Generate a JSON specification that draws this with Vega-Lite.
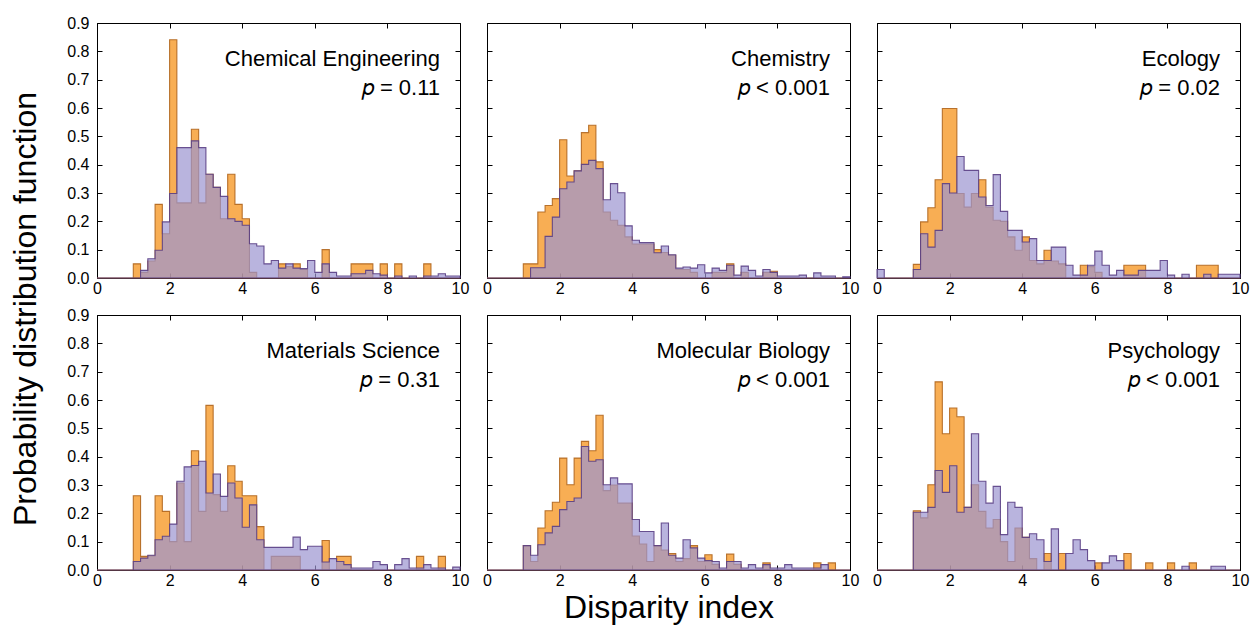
{
"$schema": "https://vega.github.io/schema/vega-lite/v6.json",
"padding": {"left": 10, "top": 14, "right": 5, "bottom": 5},
"title": {"text": "Probability distribution function", "orient": "left", "anchor": "middle", "fontSize": 32, "font": "Liberation Sans", "fontWeight": "normal", "color": "black", "offset": 23, "dx": 10},
"config": {
  "font": "Liberation Sans",
  "view": {"stroke": "black", "strokeWidth": 1},
  "axis": {"domainColor": "black", "domainWidth": 1, "tickColor": "black", "tickWidth": 1, "tickSize": -5, "labelFontSize": 16, "labelColor": "black", "labelFont": "Liberation Sans", "labelFlush": false, "grid": false, "titleFont": "Liberation Sans", "titleColor": "black", "titleFontWeight": "normal"},
  "axisX": {"labelFlush": false},
  "axisLeft": {"labelPadding": 13},
  "axisBottom": {"labelPadding": 7},
  "text": {"font": "Liberation Sans", "color": "black"}
},
"data": {"values": [
{"f":"ChemEng","x":0,"o":0,"p":0},{"f":"ChemEng","x":0.2,"o":0,"p":0},{"f":"ChemEng","x":0.4,"o":0,"p":0},{"f":"ChemEng","x":0.6,"o":0,"p":0},{"f":"ChemEng","x":0.8,"o":0,"p":0},
{"f":"ChemEng","x":1,"o":0.05,"p":0},{"f":"ChemEng","x":1.2,"o":0.02,"p":0.027},{"f":"ChemEng","x":1.4,"o":0.06,"p":0.068},{"f":"ChemEng","x":1.6,"o":0.26,"p":0.098},{"f":"ChemEng","x":1.8,"o":0.156,"p":0.198},
{"f":"ChemEng","x":2,"o":0.841,"p":0.298},{"f":"ChemEng","x":2.2,"o":0.265,"p":0.46},{"f":"ChemEng","x":2.4,"o":0.265,"p":0.46},{"f":"ChemEng","x":2.6,"o":0.525,"p":0.484},{"f":"ChemEng","x":2.8,"o":0.265,"p":0.46},
{"f":"ChemEng","x":3,"o":0.366,"p":0.366},{"f":"ChemEng","x":3.2,"o":0.32,"p":0.32},{"f":"ChemEng","x":3.4,"o":0.209,"p":0.288},{"f":"ChemEng","x":3.6,"o":0.366,"p":0.209},{"f":"ChemEng","x":3.8,"o":0.26,"p":0.2},
{"f":"ChemEng","x":4,"o":0.209,"p":0.186},{"f":"ChemEng","x":4.2,"o":0.02,"p":0.121},{"f":"ChemEng","x":4.4,"o":0,"p":0.113},{"f":"ChemEng","x":4.6,"o":0,"p":0.05},{"f":"ChemEng","x":4.8,"o":0,"p":0.062},
{"f":"ChemEng","x":5,"o":0.05,"p":0.035},{"f":"ChemEng","x":5.2,"o":0.04,"p":0.05},{"f":"ChemEng","x":5.4,"o":0.05,"p":0.035},{"f":"ChemEng","x":5.6,"o":0.03,"p":0.033},{"f":"ChemEng","x":5.8,"o":0,"p":0.062},
{"f":"ChemEng","x":6,"o":0,"p":0.02},{"f":"ChemEng","x":6.2,"o":0.1,"p":0.05},{"f":"ChemEng","x":6.4,"o":0,"p":0.02},{"f":"ChemEng","x":6.6,"o":0,"p":0.007},{"f":"ChemEng","x":6.8,"o":0,"p":0.007},
{"f":"ChemEng","x":7,"o":0.05,"p":0.015},{"f":"ChemEng","x":7.2,"o":0.05,"p":0.015},{"f":"ChemEng","x":7.4,"o":0.05,"p":0.027},{"f":"ChemEng","x":7.6,"o":0,"p":0.015},{"f":"ChemEng","x":7.8,"o":0.05,"p":0.01},
{"f":"ChemEng","x":8,"o":0,"p":0},{"f":"ChemEng","x":8.2,"o":0.05,"p":0.007},{"f":"ChemEng","x":8.4,"o":0,"p":0},{"f":"ChemEng","x":8.6,"o":0,"p":0.007},{"f":"ChemEng","x":8.8,"o":0,"p":0},
{"f":"ChemEng","x":9,"o":0.05,"p":0.007},{"f":"ChemEng","x":9.2,"o":0,"p":0.007},{"f":"ChemEng","x":9.4,"o":0,"p":0.015},{"f":"ChemEng","x":9.6,"o":0,"p":0.007},{"f":"ChemEng","x":9.8,"o":0,"p":0.007},
{"f":"ChemEng","x":10,"o":0,"p":0},

{"f":"Chem","x":0,"o":0,"p":0},{"f":"Chem","x":0.2,"o":0,"p":0},{"f":"Chem","x":0.4,"o":0,"p":0},{"f":"Chem","x":0.6,"o":0,"p":0},{"f":"Chem","x":0.8,"o":0,"p":0},
{"f":"Chem","x":1,"o":0.05,"p":0},{"f":"Chem","x":1.2,"o":0.05,"p":0.036},{"f":"Chem","x":1.4,"o":0.233,"p":0.036},{"f":"Chem","x":1.6,"o":0.256,"p":0.147},{"f":"Chem","x":1.8,"o":0.28,"p":0.215},
{"f":"Chem","x":2,"o":0.488,"p":0.315},{"f":"Chem","x":2.2,"o":0.36,"p":0.339},{"f":"Chem","x":2.4,"o":0.378,"p":0.378},{"f":"Chem","x":2.6,"o":0.513,"p":0.401},{"f":"Chem","x":2.8,"o":0.539,"p":0.415},
{"f":"Chem","x":3,"o":0.41,"p":0.386},{"f":"Chem","x":3.2,"o":0.233,"p":0.276},{"f":"Chem","x":3.4,"o":0.204,"p":0.333},{"f":"Chem","x":3.6,"o":0.186,"p":0.301},{"f":"Chem","x":3.8,"o":0.145,"p":0.184},
{"f":"Chem","x":4,"o":0.12,"p":0.133},{"f":"Chem","x":4.2,"o":0.12,"p":0.125},{"f":"Chem","x":4.4,"o":0.12,"p":0.125},{"f":"Chem","x":4.6,"o":0.1,"p":0.089},{"f":"Chem","x":4.8,"o":0.09,"p":0.113},
{"f":"Chem","x":5,"o":0.08,"p":0.082},{"f":"Chem","x":5.2,"o":0.03,"p":0.035},{"f":"Chem","x":5.4,"o":0.03,"p":0.039},{"f":"Chem","x":5.6,"o":0.02,"p":0.035},{"f":"Chem","x":5.8,"o":0,"p":0.047},
{"f":"Chem","x":6,"o":0,"p":0.018},{"f":"Chem","x":6.2,"o":0.02,"p":0.035},{"f":"Chem","x":6.4,"o":0.02,"p":0.027},{"f":"Chem","x":6.6,"o":0.05,"p":0.045},{"f":"Chem","x":6.8,"o":0,"p":0.01},
{"f":"Chem","x":7,"o":0.02,"p":0.042},{"f":"Chem","x":7.2,"o":0,"p":0.027},{"f":"Chem","x":7.4,"o":0,"p":0.007},{"f":"Chem","x":7.6,"o":0.02,"p":0.03},{"f":"Chem","x":7.8,"o":0.024,"p":0.02},
{"f":"Chem","x":8,"o":0,"p":0.007},{"f":"Chem","x":8.2,"o":0,"p":0.007},{"f":"Chem","x":8.4,"o":0,"p":0.007},{"f":"Chem","x":8.6,"o":0,"p":0.01},{"f":"Chem","x":8.8,"o":0,"p":0},
{"f":"Chem","x":9,"o":0,"p":0.018},{"f":"Chem","x":9.2,"o":0,"p":0.007},{"f":"Chem","x":9.4,"o":0,"p":0.007},{"f":"Chem","x":9.6,"o":0,"p":0},{"f":"Chem","x":9.8,"o":0,"p":0.004},
{"f":"Chem","x":10,"o":0,"p":0},

{"f":"Ecol","x":0,"o":0,"p":0.03},{"f":"Ecol","x":0.2,"o":0,"p":0},{"f":"Ecol","x":0.4,"o":0,"p":0},{"f":"Ecol","x":0.6,"o":0,"p":0},{"f":"Ecol","x":0.8,"o":0,"p":0},
{"f":"Ecol","x":1,"o":0.048,"p":0.03},{"f":"Ecol","x":1.2,"o":0.198,"p":0.156},{"f":"Ecol","x":1.4,"o":0.248,"p":0.109},{"f":"Ecol","x":1.6,"o":0.347,"p":0.168},{"f":"Ecol","x":1.8,"o":0.598,"p":0.333},
{"f":"Ecol","x":2,"o":0.598,"p":0.3},{"f":"Ecol","x":2.2,"o":0.298,"p":0.429},{"f":"Ecol","x":2.4,"o":0.25,"p":0.38},{"f":"Ecol","x":2.6,"o":0.298,"p":0.38},{"f":"Ecol","x":2.8,"o":0.347,"p":0.286},
{"f":"Ecol","x":3,"o":0.25,"p":0.256},{"f":"Ecol","x":3.2,"o":0.204,"p":0.365},{"f":"Ecol","x":3.4,"o":0.2,"p":0.235},{"f":"Ecol","x":3.6,"o":0.145,"p":0.168},{"f":"Ecol","x":3.8,"o":0.098,"p":0.168},
{"f":"Ecol","x":4,"o":0.145,"p":0.127},{"f":"Ecol","x":4.2,"o":0.062,"p":0.139},{"f":"Ecol","x":4.4,"o":0.05,"p":0.062},{"f":"Ecol","x":4.6,"o":0.098,"p":0.062},{"f":"Ecol","x":4.8,"o":0.06,"p":0.109},
{"f":"Ecol","x":5,"o":0.05,"p":0.109},{"f":"Ecol","x":5.2,"o":0,"p":0.045},{"f":"Ecol","x":5.4,"o":0,"p":0.01},{"f":"Ecol","x":5.6,"o":0.045,"p":0.01},{"f":"Ecol","x":5.8,"o":0.04,"p":0.045},
{"f":"Ecol","x":6,"o":0.02,"p":0.095},{"f":"Ecol","x":6.2,"o":0,"p":0.045},{"f":"Ecol","x":6.4,"o":0,"p":0.01},{"f":"Ecol","x":6.6,"o":0,"p":0.027},{"f":"Ecol","x":6.8,"o":0.045,"p":0.01},
{"f":"Ecol","x":7,"o":0.045,"p":0.01},{"f":"Ecol","x":7.2,"o":0.045,"p":0.027},{"f":"Ecol","x":7.4,"o":0,"p":0.027},{"f":"Ecol","x":7.6,"o":0,"p":0.027},{"f":"Ecol","x":7.8,"o":0,"p":0.062},
{"f":"Ecol","x":8,"o":0,"p":0.01},{"f":"Ecol","x":8.2,"o":0,"p":0},{"f":"Ecol","x":8.4,"o":0,"p":0.013},{"f":"Ecol","x":8.6,"o":0,"p":0},{"f":"Ecol","x":8.8,"o":0.045,"p":0},
{"f":"Ecol","x":9,"o":0.045,"p":0.013},{"f":"Ecol","x":9.2,"o":0.045,"p":0},{"f":"Ecol","x":9.4,"o":0,"p":0.013},{"f":"Ecol","x":9.6,"o":0,"p":0.013},{"f":"Ecol","x":9.8,"o":0,"p":0.013},
{"f":"Ecol","x":10,"o":0,"p":0},

{"f":"MatSci","x":0,"o":0,"p":0},{"f":"MatSci","x":0.2,"o":0,"p":0},{"f":"MatSci","x":0.4,"o":0,"p":0},{"f":"MatSci","x":0.6,"o":0,"p":0},{"f":"MatSci","x":0.8,"o":0,"p":0},
{"f":"MatSci","x":1,"o":0.262,"p":0.03},{"f":"MatSci","x":1.2,"o":0.048,"p":0.042},{"f":"MatSci","x":1.4,"o":0.05,"p":0.052},{"f":"MatSci","x":1.6,"o":0.262,"p":0.107},{"f":"MatSci","x":1.8,"o":0.207,"p":0.119},
{"f":"MatSci","x":2,"o":0.1,"p":0.162},{"f":"MatSci","x":2.2,"o":0.307,"p":0.313},{"f":"MatSci","x":2.4,"o":0.1,"p":0.364},{"f":"MatSci","x":2.6,"o":0.421,"p":0.369},{"f":"MatSci","x":2.8,"o":0.207,"p":0.384},
{"f":"MatSci","x":3,"o":0.581,"p":0.272},{"f":"MatSci","x":3.2,"o":0.266,"p":0.339},{"f":"MatSci","x":3.4,"o":0.207,"p":0.26},{"f":"MatSci","x":3.6,"o":0.368,"p":0.307},{"f":"MatSci","x":3.8,"o":0.313,"p":0.254},
{"f":"MatSci","x":4,"o":0.262,"p":0.151},{"f":"MatSci","x":4.2,"o":0.262,"p":0.23},{"f":"MatSci","x":4.4,"o":0.153,"p":0.107},{"f":"MatSci","x":4.6,"o":0,"p":0.08},{"f":"MatSci","x":4.8,"o":0.048,"p":0.08},
{"f":"MatSci","x":5,"o":0.048,"p":0.08},{"f":"MatSci","x":5.2,"o":0.048,"p":0.08},{"f":"MatSci","x":5.4,"o":0.048,"p":0.116},{"f":"MatSci","x":5.6,"o":0,"p":0.072},{"f":"MatSci","x":5.8,"o":0,"p":0.084},
{"f":"MatSci","x":6,"o":0,"p":0.084},{"f":"MatSci","x":6.2,"o":0.104,"p":0.028},{"f":"MatSci","x":6.4,"o":0,"p":0.04},{"f":"MatSci","x":6.6,"o":0.048,"p":0.03},{"f":"MatSci","x":6.8,"o":0.048,"p":0.019},
{"f":"MatSci","x":7,"o":0,"p":0.007},{"f":"MatSci","x":7.2,"o":0,"p":0.007},{"f":"MatSci","x":7.4,"o":0,"p":0.007},{"f":"MatSci","x":7.6,"o":0,"p":0.03},{"f":"MatSci","x":7.8,"o":0,"p":0.019},
{"f":"MatSci","x":8,"o":0,"p":0},{"f":"MatSci","x":8.2,"o":0,"p":0.019},{"f":"MatSci","x":8.4,"o":0,"p":0.04},{"f":"MatSci","x":8.6,"o":0,"p":0.007},{"f":"MatSci","x":8.8,"o":0.048,"p":0.007},
{"f":"MatSci","x":9,"o":0,"p":0.019},{"f":"MatSci","x":9.2,"o":0,"p":0.007},{"f":"MatSci","x":9.4,"o":0.048,"p":0.007},{"f":"MatSci","x":9.6,"o":0,"p":0},{"f":"MatSci","x":9.8,"o":0,"p":0.01},
{"f":"MatSci","x":10,"o":0,"p":0},

{"f":"MolBio","x":0,"o":0,"p":0},{"f":"MolBio","x":0.2,"o":0,"p":0},{"f":"MolBio","x":0.4,"o":0,"p":0},{"f":"MolBio","x":0.6,"o":0,"p":0},{"f":"MolBio","x":0.8,"o":0,"p":0},
{"f":"MolBio","x":1,"o":0.086,"p":0.086},{"f":"MolBio","x":1.2,"o":0.03,"p":0.052},{"f":"MolBio","x":1.4,"o":0.148,"p":0.089},{"f":"MolBio","x":1.6,"o":0.209,"p":0.131},{"f":"MolBio","x":1.8,"o":0.239,"p":0.154},
{"f":"MolBio","x":2,"o":0.395,"p":0.213},{"f":"MolBio","x":2.2,"o":0.301,"p":0.242},{"f":"MolBio","x":2.4,"o":0.395,"p":0.254},{"f":"MolBio","x":2.6,"o":0.454,"p":0.436},{"f":"MolBio","x":2.8,"o":0.421,"p":0.384},
{"f":"MolBio","x":3,"o":0.546,"p":0.389},{"f":"MolBio","x":3.2,"o":0.28,"p":0.301},{"f":"MolBio","x":3.4,"o":0.3,"p":0.325},{"f":"MolBio","x":3.6,"o":0.236,"p":0.304},{"f":"MolBio","x":3.8,"o":0.236,"p":0.304},
{"f":"MolBio","x":4,"o":0.12,"p":0.178},{"f":"MolBio","x":4.2,"o":0.092,"p":0.136},{"f":"MolBio","x":4.4,"o":0.03,"p":0.136},{"f":"MolBio","x":4.6,"o":0.086,"p":0.086},{"f":"MolBio","x":4.8,"o":0.07,"p":0.166},
{"f":"MolBio","x":5,"o":0.058,"p":0.052},{"f":"MolBio","x":5.2,"o":0.03,"p":0.042},{"f":"MolBio","x":5.4,"o":0.04,"p":0.107},{"f":"MolBio","x":5.6,"o":0.086,"p":0.078},{"f":"MolBio","x":5.8,"o":0.03,"p":0.042},
{"f":"MolBio","x":6,"o":0.054,"p":0.033},{"f":"MolBio","x":6.2,"o":0.02,"p":0.03},{"f":"MolBio","x":6.4,"o":0,"p":0.007},{"f":"MolBio","x":6.6,"o":0.056,"p":0.03},{"f":"MolBio","x":6.8,"o":0.02,"p":0.03},
{"f":"MolBio","x":7,"o":0,"p":0.007},{"f":"MolBio","x":7.2,"o":0,"p":0.019},{"f":"MolBio","x":7.4,"o":0,"p":0.007},{"f":"MolBio","x":7.6,"o":0.025,"p":0.019},{"f":"MolBio","x":7.8,"o":0,"p":0.007},
{"f":"MolBio","x":8,"o":0,"p":0.007},{"f":"MolBio","x":8.2,"o":0,"p":0.019},{"f":"MolBio","x":8.4,"o":0,"p":0.007},{"f":"MolBio","x":8.6,"o":0,"p":0.007},{"f":"MolBio","x":8.8,"o":0,"p":0.007},
{"f":"MolBio","x":9,"o":0.025,"p":0.007},{"f":"MolBio","x":9.2,"o":0,"p":0.019},{"f":"MolBio","x":9.4,"o":0.025,"p":0},{"f":"MolBio","x":9.6,"o":0,"p":0},{"f":"MolBio","x":9.8,"o":0,"p":0},
{"f":"MolBio","x":10,"o":0,"p":0},

{"f":"Psych","x":0,"o":0,"p":0},{"f":"Psych","x":0.2,"o":0,"p":0},{"f":"Psych","x":0.4,"o":0,"p":0},{"f":"Psych","x":0.6,"o":0,"p":0},{"f":"Psych","x":0.8,"o":0,"p":0},
{"f":"Psych","x":1,"o":0.209,"p":0.204},{"f":"Psych","x":1.2,"o":0.184,"p":0.204},{"f":"Psych","x":1.4,"o":0.301,"p":0.221},{"f":"Psych","x":1.6,"o":0.664,"p":0.351},{"f":"Psych","x":1.8,"o":0.481,"p":0.274},
{"f":"Psych","x":2,"o":0.572,"p":0.368},{"f":"Psych","x":2.2,"o":0.541,"p":0.204},{"f":"Psych","x":2.4,"o":0.221,"p":0.221},{"f":"Psych","x":2.6,"o":0.301,"p":0.481},{"f":"Psych","x":2.8,"o":0.207,"p":0.313},
{"f":"Psych","x":3,"o":0.148,"p":0.236},{"f":"Psych","x":3.2,"o":0.178,"p":0.295},{"f":"Psych","x":3.4,"o":0.1,"p":0.125},{"f":"Psych","x":3.6,"o":0.03,"p":0.239},{"f":"Psych","x":3.8,"o":0.148,"p":0.221},
{"f":"Psych","x":4,"o":0.115,"p":0.115},{"f":"Psych","x":4.2,"o":0.04,"p":0.128},{"f":"Psych","x":4.4,"o":0,"p":0.107},{"f":"Psych","x":4.6,"o":0.058,"p":0.03},{"f":"Psych","x":4.8,"o":0,"p":0.145},
{"f":"Psych","x":5,"o":0.058,"p":0},{"f":"Psych","x":5.2,"o":0,"p":0.058},{"f":"Psych","x":5.4,"o":0,"p":0.107},{"f":"Psych","x":5.6,"o":0,"p":0.072},{"f":"Psych","x":5.8,"o":0,"p":0.033},
{"f":"Psych","x":6,"o":0.025,"p":0},{"f":"Psych","x":6.2,"o":0,"p":0.025},{"f":"Psych","x":6.4,"o":0,"p":0.05},{"f":"Psych","x":6.6,"o":0,"p":0.033},{"f":"Psych","x":6.8,"o":0.058,"p":0},
{"f":"Psych","x":7,"o":0,"p":0},{"f":"Psych","x":7.2,"o":0,"p":0},{"f":"Psych","x":7.4,"o":0.025,"p":0},{"f":"Psych","x":7.6,"o":0,"p":0},{"f":"Psych","x":7.8,"o":0,"p":0},
{"f":"Psych","x":8,"o":0.025,"p":0},{"f":"Psych","x":8.2,"o":0,"p":0},{"f":"Psych","x":8.4,"o":0,"p":0.013},{"f":"Psych","x":8.6,"o":0.025,"p":0},{"f":"Psych","x":8.8,"o":0,"p":0},
{"f":"Psych","x":9,"o":0,"p":0},{"f":"Psych","x":9.2,"o":0,"p":0.013},{"f":"Psych","x":9.4,"o":0,"p":0.013},{"f":"Psych","x":9.6,"o":0,"p":0},{"f":"Psych","x":9.8,"o":0,"p":0},
{"f":"Psych","x":10,"o":0,"p":0}
]},
"spacing": 9,
"vconcat": [
 {"hconcat": [
  {"width": 363, "height": 255,
   "layer": [
    {"transform": [{"filter": {"field": "f", "equal": "ChemEng"}}, {"fold": ["o", "p"], "as": ["s", "y"]}],
     "mark": {"type": "area", "interpolate": "step-after", "fillOpacity": 0.7, "strokeOpacity": 0.9, "strokeWidth": 1.1},
     "encoding": {
      "x": {"field": "x", "type": "quantitative", "scale": {"domain": [0, 10], "nice": false, "zero": false}, "axis": {"orient": "bottom", "values": [0, 2, 4, 6, 8, 10], "format": "d", "title": null}},
      "y": {"field": "y", "type": "quantitative", "stack": null, "scale": {"domain": [0, 0.9], "nice": false}, "axis": {"orient": "left", "values": [0, 0.1, 0.2, 0.3, 0.4, 0.5, 0.6, 0.7, 0.8, 0.9], "format": ".1f", "title": null}},
      "fill": {"field": "s", "type": "nominal", "scale": {"domain": ["o", "p"], "range": ["#F58B0B", "#9B94D0"]}, "legend": null},
      "stroke": {"field": "s", "type": "nominal", "scale": {"domain": ["o", "p"], "range": ["#B0661E", "#5A3F85"]}, "legend": null}
     }},
    {"data": {"values": [{}]},
     "mark": {"type": "text", "text": "Chemical Engineering", "align": "right", "baseline": "alphabetic", "fontSize": 22},
     "encoding": {"x": {"datum": 9.45, "type": "quantitative", "axis": {"orient": "top", "values": [2, 4, 6, 8], "labels": false, "title": null}}, "y": {"datum": 0.747, "type": "quantitative", "axis": {"orient": "right", "values": [0.1, 0.2, 0.3, 0.4, 0.5, 0.6, 0.7, 0.8], "labels": false, "title": null}}}},
    {"data": {"values": [{}]},
     "mark": {"type": "text", "text": "𝑝 = 0.11", "align": "right", "baseline": "alphabetic", "fontSize": 22},
     "encoding": {"x": {"datum": 9.45, "type": "quantitative", "axis": null}, "y": {"datum": 0.646, "type": "quantitative", "axis": null}}}
   ],
   "resolve": {"axis": {"x": "independent", "y": "independent"}}
  },
  {"width": 363, "height": 255,
   "layer": [
    {"transform": [{"filter": {"field": "f", "equal": "Chem"}}, {"fold": ["o", "p"], "as": ["s", "y"]}],
     "mark": {"type": "area", "interpolate": "step-after", "fillOpacity": 0.7, "strokeOpacity": 0.9, "strokeWidth": 1.1},
     "encoding": {
      "x": {"field": "x", "type": "quantitative", "scale": {"domain": [0, 10], "nice": false, "zero": false}, "axis": {"orient": "bottom", "values": [0, 2, 4, 6, 8, 10], "format": "d", "title": null}},
      "y": {"field": "y", "type": "quantitative", "stack": null, "scale": {"domain": [0, 0.9], "nice": false}, "axis": {"orient": "left", "values": [0.1, 0.2, 0.3, 0.4, 0.5, 0.6, 0.7, 0.8], "labels": false, "title": null}},
      "fill": {"field": "s", "type": "nominal", "scale": {"domain": ["o", "p"], "range": ["#F58B0B", "#9B94D0"]}, "legend": null},
      "stroke": {"field": "s", "type": "nominal", "scale": {"domain": ["o", "p"], "range": ["#B0661E", "#5A3F85"]}, "legend": null}
     }},
    {"data": {"values": [{}]},
     "mark": {"type": "text", "text": "Chemistry", "align": "right", "baseline": "alphabetic", "fontSize": 22},
     "encoding": {"x": {"datum": 9.45, "type": "quantitative", "axis": {"orient": "top", "values": [2, 4, 6, 8], "labels": false, "title": null}}, "y": {"datum": 0.747, "type": "quantitative", "axis": {"orient": "right", "values": [0.1, 0.2, 0.3, 0.4, 0.5, 0.6, 0.7, 0.8], "labels": false, "title": null}}}},
    {"data": {"values": [{}]},
     "mark": {"type": "text", "text": "𝑝 < 0.001", "align": "right", "baseline": "alphabetic", "fontSize": 22},
     "encoding": {"x": {"datum": 9.45, "type": "quantitative", "axis": null}, "y": {"datum": 0.646, "type": "quantitative", "axis": null}}}
   ],
   "resolve": {"axis": {"x": "independent", "y": "independent"}}
  },
  {"width": 363, "height": 255,
   "layer": [
    {"transform": [{"filter": {"field": "f", "equal": "Ecol"}}, {"fold": ["o", "p"], "as": ["s", "y"]}],
     "mark": {"type": "area", "interpolate": "step-after", "fillOpacity": 0.7, "strokeOpacity": 0.9, "strokeWidth": 1.1},
     "encoding": {
      "x": {"field": "x", "type": "quantitative", "scale": {"domain": [0, 10], "nice": false, "zero": false}, "axis": {"orient": "bottom", "values": [0, 2, 4, 6, 8, 10], "format": "d", "title": null}},
      "y": {"field": "y", "type": "quantitative", "stack": null, "scale": {"domain": [0, 0.9], "nice": false}, "axis": {"orient": "left", "values": [0.1, 0.2, 0.3, 0.4, 0.5, 0.6, 0.7, 0.8], "labels": false, "title": null}},
      "fill": {"field": "s", "type": "nominal", "scale": {"domain": ["o", "p"], "range": ["#F58B0B", "#9B94D0"]}, "legend": null},
      "stroke": {"field": "s", "type": "nominal", "scale": {"domain": ["o", "p"], "range": ["#B0661E", "#5A3F85"]}, "legend": null}
     }},
    {"data": {"values": [{}]},
     "mark": {"type": "text", "text": "Ecology", "align": "right", "baseline": "alphabetic", "fontSize": 22},
     "encoding": {"x": {"datum": 9.45, "type": "quantitative", "axis": {"orient": "top", "values": [2, 4, 6, 8], "labels": false, "title": null}}, "y": {"datum": 0.747, "type": "quantitative", "axis": {"orient": "right", "values": [0.1, 0.2, 0.3, 0.4, 0.5, 0.6, 0.7, 0.8], "labels": false, "title": null}}}},
    {"data": {"values": [{}]},
     "mark": {"type": "text", "text": "𝑝 = 0.02", "align": "right", "baseline": "alphabetic", "fontSize": 22},
     "encoding": {"x": {"datum": 9.45, "type": "quantitative", "axis": null}, "y": {"datum": 0.646, "type": "quantitative", "axis": null}}}
   ],
   "resolve": {"axis": {"x": "independent", "y": "independent"}}
  }
 ], "spacing": 27, "bounds": "flush"},
 {"hconcat": [
  {"width": 363, "height": 255,
   "layer": [
    {"transform": [{"filter": {"field": "f", "equal": "MatSci"}}, {"fold": ["o", "p"], "as": ["s", "y"]}],
     "mark": {"type": "area", "interpolate": "step-after", "fillOpacity": 0.7, "strokeOpacity": 0.9, "strokeWidth": 1.1},
     "encoding": {
      "x": {"field": "x", "type": "quantitative", "scale": {"domain": [0, 10], "nice": false, "zero": false}, "axis": {"orient": "bottom", "values": [0, 2, 4, 6, 8, 10], "format": "d", "title": null}},
      "y": {"field": "y", "type": "quantitative", "stack": null, "scale": {"domain": [0, 0.9], "nice": false}, "axis": {"orient": "left", "values": [0, 0.1, 0.2, 0.3, 0.4, 0.5, 0.6, 0.7, 0.8, 0.9], "format": ".1f", "title": null}},
      "fill": {"field": "s", "type": "nominal", "scale": {"domain": ["o", "p"], "range": ["#F58B0B", "#9B94D0"]}, "legend": null},
      "stroke": {"field": "s", "type": "nominal", "scale": {"domain": ["o", "p"], "range": ["#B0661E", "#5A3F85"]}, "legend": null}
     }},
    {"data": {"values": [{}]},
     "mark": {"type": "text", "text": "Materials Science", "align": "right", "baseline": "alphabetic", "fontSize": 22},
     "encoding": {"x": {"datum": 9.45, "type": "quantitative", "axis": {"orient": "top", "values": [2, 4, 6, 8], "labels": false, "title": null}}, "y": {"datum": 0.747, "type": "quantitative", "axis": {"orient": "right", "values": [0.1, 0.2, 0.3, 0.4, 0.5, 0.6, 0.7, 0.8], "labels": false, "title": null}}}},
    {"data": {"values": [{}]},
     "mark": {"type": "text", "text": "𝑝 = 0.31", "align": "right", "baseline": "alphabetic", "fontSize": 22},
     "encoding": {"x": {"datum": 9.45, "type": "quantitative", "axis": null}, "y": {"datum": 0.646, "type": "quantitative", "axis": null}}}
   ],
   "resolve": {"axis": {"x": "independent", "y": "independent"}}
  },
  {"width": 363, "height": 255,
   "layer": [
    {"transform": [{"filter": {"field": "f", "equal": "MolBio"}}, {"fold": ["o", "p"], "as": ["s", "y"]}],
     "mark": {"type": "area", "interpolate": "step-after", "fillOpacity": 0.7, "strokeOpacity": 0.9, "strokeWidth": 1.1},
     "encoding": {
      "x": {"field": "x", "type": "quantitative", "scale": {"domain": [0, 10], "nice": false, "zero": false}, "axis": {"orient": "bottom", "values": [0, 2, 4, 6, 8, 10], "format": "d", "title": "Disparity index", "titleFontSize": 32, "titlePadding": 4}},
      "y": {"field": "y", "type": "quantitative", "stack": null, "scale": {"domain": [0, 0.9], "nice": false}, "axis": {"orient": "left", "values": [0.1, 0.2, 0.3, 0.4, 0.5, 0.6, 0.7, 0.8], "labels": false, "title": null}},
      "fill": {"field": "s", "type": "nominal", "scale": {"domain": ["o", "p"], "range": ["#F58B0B", "#9B94D0"]}, "legend": null},
      "stroke": {"field": "s", "type": "nominal", "scale": {"domain": ["o", "p"], "range": ["#B0661E", "#5A3F85"]}, "legend": null}
     }},
    {"data": {"values": [{}]},
     "mark": {"type": "text", "text": "Molecular Biology", "align": "right", "baseline": "alphabetic", "fontSize": 22},
     "encoding": {"x": {"datum": 9.45, "type": "quantitative", "axis": {"orient": "top", "values": [2, 4, 6, 8], "labels": false, "title": null}}, "y": {"datum": 0.747, "type": "quantitative", "axis": {"orient": "right", "values": [0.1, 0.2, 0.3, 0.4, 0.5, 0.6, 0.7, 0.8], "labels": false, "title": null}}}},
    {"data": {"values": [{}]},
     "mark": {"type": "text", "text": "𝑝 < 0.001", "align": "right", "baseline": "alphabetic", "fontSize": 22},
     "encoding": {"x": {"datum": 9.45, "type": "quantitative", "axis": null}, "y": {"datum": 0.646, "type": "quantitative", "axis": null}}}
   ],
   "resolve": {"axis": {"x": "independent", "y": "independent"}}
  },
  {"width": 363, "height": 255,
   "layer": [
    {"transform": [{"filter": {"field": "f", "equal": "Psych"}}, {"fold": ["o", "p"], "as": ["s", "y"]}],
     "mark": {"type": "area", "interpolate": "step-after", "fillOpacity": 0.7, "strokeOpacity": 0.9, "strokeWidth": 1.1},
     "encoding": {
      "x": {"field": "x", "type": "quantitative", "scale": {"domain": [0, 10], "nice": false, "zero": false}, "axis": {"orient": "bottom", "values": [0, 2, 4, 6, 8, 10], "format": "d", "title": null}},
      "y": {"field": "y", "type": "quantitative", "stack": null, "scale": {"domain": [0, 0.9], "nice": false}, "axis": {"orient": "left", "values": [0.1, 0.2, 0.3, 0.4, 0.5, 0.6, 0.7, 0.8], "labels": false, "title": null}},
      "fill": {"field": "s", "type": "nominal", "scale": {"domain": ["o", "p"], "range": ["#F58B0B", "#9B94D0"]}, "legend": null},
      "stroke": {"field": "s", "type": "nominal", "scale": {"domain": ["o", "p"], "range": ["#B0661E", "#5A3F85"]}, "legend": null}
     }},
    {"data": {"values": [{}]},
     "mark": {"type": "text", "text": "Psychology", "align": "right", "baseline": "alphabetic", "fontSize": 22},
     "encoding": {"x": {"datum": 9.45, "type": "quantitative", "axis": {"orient": "top", "values": [2, 4, 6, 8], "labels": false, "title": null}}, "y": {"datum": 0.747, "type": "quantitative", "axis": {"orient": "right", "values": [0.1, 0.2, 0.3, 0.4, 0.5, 0.6, 0.7, 0.8], "labels": false, "title": null}}}},
    {"data": {"values": [{}]},
     "mark": {"type": "text", "text": "𝑝 < 0.001", "align": "right", "baseline": "alphabetic", "fontSize": 22},
     "encoding": {"x": {"datum": 9.45, "type": "quantitative", "axis": null}, "y": {"datum": 0.646, "type": "quantitative", "axis": null}}}
   ],
   "resolve": {"axis": {"x": "independent", "y": "independent"}}
  }
 ], "spacing": 27, "bounds": "flush"}
]
}
